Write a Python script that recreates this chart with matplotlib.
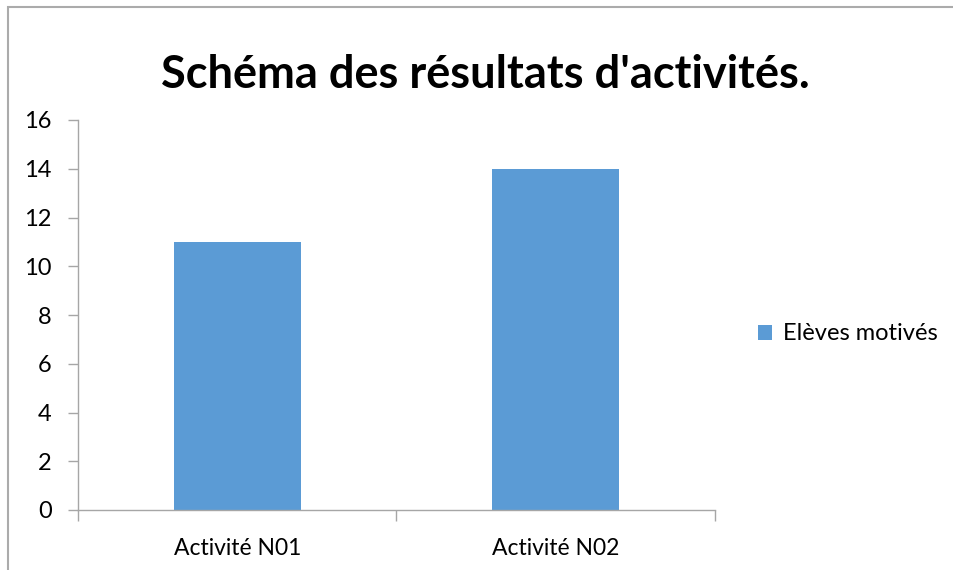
import matplotlib
matplotlib.use("Agg")
import matplotlib.pyplot as plt
from matplotlib.patches import Rectangle

# data
categories = ["Activité N01", "Activité N02"]
values = [11, 14]
series_name = "Elèves motivés"
y_ticks = [0, 2, 4, 6, 8, 10, 12, 14, 16]

bar_color = "#5B9BD5"
axis_color = "#A6A6A6"

plt.rcParams['font.family'] = ['Lato', 'DejaVu Sans']

fig = plt.figure(figsize=(9.54, 5.7), dpi=100)
fig.patch.set_facecolor("white")

# outer chart frame (only left/top visible in the crop)
fig.add_artist(Rectangle((8 / 954, -0.1), 2.0, 1.1 - 7 / 570, transform=fig.transFigure,
                         fill=False, edgecolor="#ABABAB", lw=1.5, clip_on=False))

ax = fig.add_axes([78 / 954, 60 / 570, (715 - 78) / 954, (510 - 120) / 570])
x = list(range(len(categories)))
ax.bar(x, values, width=0.4, color=bar_color, label=series_name, zorder=2)

ax.set_xlim(-0.5, len(categories) - 0.5)
ax.set_ylim(0, 16)
ax.set_yticks(y_ticks)
ax.set_yticklabels([str(v) for v in y_ticks], fontsize=17)

# category labels between boundary ticks
ax.set_xticks([i - 0.5 for i in range(len(categories) + 1)])
ax.set_xticklabels([])
ax.set_xticks(x, minor=True)
ax.set_xticklabels(categories, minor=True, fontsize=16.5)
ax.tick_params(axis="x", which="minor", length=0, pad=20)
ax.tick_params(axis="x", which="major", length=8, color=axis_color, width=1)
ax.tick_params(axis="y", length=7, color=axis_color, width=1, pad=12)

for s in ["top", "right"]:
    ax.spines[s].set_visible(False)
for s in ["left", "bottom"]:
    ax.spines[s].set_color(axis_color)
    ax.spines[s].set_linewidth(1)

fig.text(485 / 954, 1 - 75 / 570, "Schéma des résultats d'activités.",
         ha="center", va="center", fontsize=32.5, fontweight="bold")

fig.legend(loc="center left", bbox_to_anchor=(737 / 954, 1 - 334 / 570),
           frameon=False, fontsize=17, handlelength=0.6, handleheight=0.6,
           handletextpad=0.45)

fig.savefig("out.png", dpi=100, facecolor="white")
